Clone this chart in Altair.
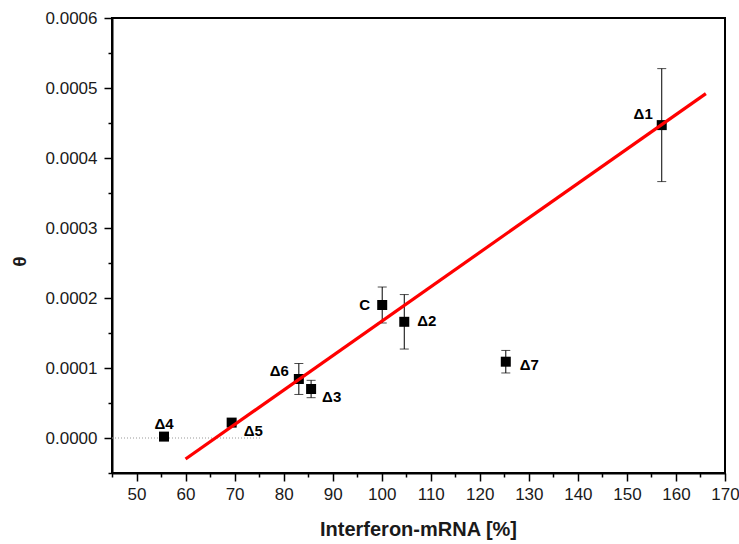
import altair as alt
import pandas as pd

# ---- data ----
labels = ["Δ1", "Δ2", "Δ3", "Δ4", "Δ5", "Δ6", "Δ7", "C"]
x_vals = [157.1, 104.6, 85.6, 55.6, 69.4, 83.1, 125.3, 100.1]
y_vals = [0.000447, 0.000166, 0.000070, 0.000002, 0.000022, 0.0000843, 0.000109, 0.000190]
y_err = [0.0000807, 0.0000389, 0.0000124, 0.0, 0.0, 0.0000221, 0.0000161, 0.0000257]

fit_x = [60.0, 166.1]
fit_y = [-0.000030, 0.000492]

zero_x = [45.0, 75.2]
zero_y = [0.0, 0.0]

x_major = [50, 60, 70, 80, 90, 100, 110, 120, 130, 140, 150, 160, 170]
x_minor = [45, 55, 65, 75, 85, 95, 105, 115, 125, 135, 145, 155, 165]
y_major = [0.0, 0.0001, 0.0002, 0.0003, 0.0004, 0.0005, 0.0006]
y_minor = [-0.00005, 0.00005, 0.00015, 0.00025, 0.00035, 0.00045, 0.00055]

# label placement (style): align, dx, dy
label_style = {
    "Δ1": ("right", -9, -6),
    "Δ2": ("left", 13, 4),
    "Δ3": ("left", 11, 13),
    "Δ4": ("center", 0, -8),
    "Δ5": ("left", 12, 13),
    "Δ6": ("right", -10, -3),
    "Δ7": ("left", 14, 8),
    "C": ("right", -12, 5),
}

FONT = "Liberation Sans"

pts = pd.DataFrame({"label": labels, "x": x_vals, "y": y_vals, "err": y_err})
pts["lo"] = pts["y"] - pts["err"]
pts["hi"] = pts["y"] + pts["err"]
bars = pts[pts["err"] > 0]
fit = pd.DataFrame({"x": fit_x, "y": fit_y})
zero = pd.DataFrame({"x": zero_x, "y": zero_y})

x_scale = alt.Scale(domain=[45, 170], nice=False, zero=False)
y_scale = alt.Scale(domain=[-0.00005, 0.0006], nice=False, zero=False)

x_axis_major = alt.Axis(
    orient="bottom",
    values=x_major,
    title="Interferon-mRNA [%]",
    format="d",
    tickSize=8,
    labelPadding=5,
    grid=False,
    titleX=306,
    titleY=62,
    titleBaseline="alphabetic",
    titleAlign="center",
    titleFontSize=20,
)
y_axis_major = alt.Axis(
    orient="left",
    values=y_major,
    title="θ",
    format=".4f",
    tickSize=8,
    labelPadding=7,
    grid=False,
    titleX=-93,
    titleY=243,
    titleAngle=270,
    titleAlign="center",
    titleBaseline="middle",
    titleFontSize=19,
)
x_axis_minor = alt.Axis(
    orient="bottom", values=x_minor, labels=False, title=None,
    tickSize=4, grid=False, domain=False,
)
y_axis_minor = alt.Axis(
    orient="left", values=y_minor, labels=False, title=None,
    tickSize=4, grid=False, domain=False,
)


def X(field="x", axis=None):
    return alt.X(f"{field}:Q", scale=x_scale, axis=axis)


def Y(field="y", axis=None):
    return alt.Y(f"{field}:Q", scale=y_scale, axis=axis)


minor_axes = alt.Chart(zero).mark_point(opacity=0).encode(
    x=X(axis=x_axis_minor), y=Y(axis=y_axis_minor)
)

zero_line = alt.Chart(zero).mark_line(
    color="#999999", strokeWidth=1, strokeDash=[1, 2]
).encode(x=X(axis=x_axis_major), y=Y(axis=y_axis_major))

err_rules = alt.Chart(bars).mark_rule(color="black", strokeWidth=1).encode(
    x=X(), y=Y("lo"), y2="hi:Q"
)
caps_lo = alt.Chart(bars).mark_tick(
    color="black", orient="horizontal", size=9, thickness=1
).encode(x=X(), y=Y("lo"))
caps_hi = alt.Chart(bars).mark_tick(
    color="black", orient="horizontal", size=9, thickness=1
).encode(x=X(), y=Y("hi"))

points = alt.Chart(pts).mark_square(color="black", size=100, opacity=1).encode(
    x=X(), y=Y()
)

fit_line = alt.Chart(fit).mark_line(color="#ff0000", strokeWidth=3.2).encode(
    x=X(), y=Y()
)

text_layers = []
for lab in labels:
    align, dx, dy = label_style[lab]
    text_layers.append(
        alt.Chart(pts[pts["label"] == lab]).mark_text(
            align=align, baseline="alphabetic", dx=dx, dy=dy,
            font=FONT, fontSize=15, fontWeight="bold", color="black",
        ).encode(x=X(), y=Y(), text="label:N")
    )

chart = alt.layer(
    minor_axes, zero_line, err_rules, caps_lo, caps_hi, points, fit_line, *text_layers
).resolve_axis(
    x="independent", y="independent"
).properties(
    width=613,
    height=455,
    autosize=alt.AutoSizeParams(type="none"),
    padding={"left": 112, "top": 18, "right": 14, "bottom": 71},
    background="white",
).configure_view(
    stroke="black", strokeWidth=2
).configure_axis(
    domainColor="black",
    domainWidth=2,
    tickColor="black",
    tickWidth=1.5,
    labelFont=FONT,
    labelFontSize=17,
    labelColor="#1a1a1a",
    titleFont=FONT,
    titleFontWeight="bold",
    titleColor="#1a1a1a",
    labelFlush=False,
    labelOverlap=False,
)

chart.save("out.html", embed_options={"renderer": "svg", "actions": False})
